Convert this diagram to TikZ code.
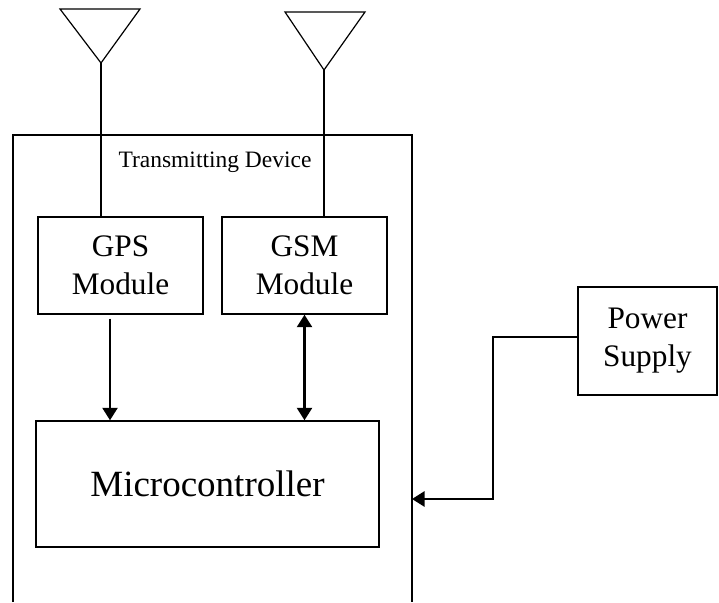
\documentclass[tikz,border=0pt]{standalone}
\usepackage{fontspec}
\setmainfont{Liberation Serif}
\usetikzlibrary{arrows.meta}
\tikzset{
  blk/.style={draw, line width=1.4pt, inner sep=0pt, align=center},
  modtext/.style={font=\fontsize{31.3}{38}\selectfont},
  tip/.tip={Triangle[length=12.5pt,width=15pt]},
  arr/.style={line width=2.5pt, -tip},
  darr/.style={line width=2.5pt, tip-tip},
  thin/.style={line width=1.2pt},
}
\begin{document}
\begin{tikzpicture}[x=1pt,y=-1pt]
\useasboundingbox (0,0) rectangle (719,602);
% outer device box (open at the bottom)
\coordinate (devBL) at (13,602);
\coordinate (devTL) at (13,135);
\coordinate (devTR) at (412,135);
\coordinate (devBR) at (412,602);
\draw[thin] (devBL) -- (devTL) -- (devTR) -- (devBR);
\node[font=\fontsize{23.5}{28}\selectfont] (title) at (215,162) {Transmitting Device};
% modules
\node[blk, modtext, minimum width=165pt, minimum height=97pt] (gps) at (120.5,265.5)
  {GPS\\ Module};
\node[blk, modtext, minimum width=165pt, minimum height=97pt] (gsm) at (304.5,265.5)
  {GSM\\ Module};
\node[blk, font=\fontsize{37}{44}\selectfont, minimum width=343pt, minimum height=126pt] (micro) at (207.5,484)
  {Microcontroller};
\node[blk, modtext, minimum width=139pt, minimum height=108pt] (power) at (647.5,341)
  {Power\\ Supply};
% antennas
\coordinate (ant1) at (101,63);
\coordinate (ant1l) at (60,9);
\coordinate (ant1r) at (140,9);
\coordinate (ant2) at (324,70);
\coordinate (ant2l) at (285,12);
\coordinate (ant2r) at (365,12);
\draw[thin, line join=miter] (ant1l) -- (ant1r) -- (ant1) -- cycle;
\draw[thin, line join=miter] (ant2l) -- (ant2r) -- (ant2) -- cycle;
\draw[thin] (ant1) -- (ant1 |- gps.north);
\draw[thin] (ant2) -- (ant2 |- gsm.north);
% arrows
\coordinate (gpsout) at ([xshift=-10.5pt,yshift=-4pt]gps.south);
\draw[arr] (gpsout) -- (gpsout |- micro.north);
\draw[darr] (gsm.south) -- (gsm.south |- micro.north);
\coordinate (pwrout) at ([yshift=4pt]power.west);
\coordinate (bend) at (493,337);
\coordinate (devin) at (412,499);
\draw[arr] (pwrout) -- (bend) |- (devin);
\end{tikzpicture}
\end{document}
